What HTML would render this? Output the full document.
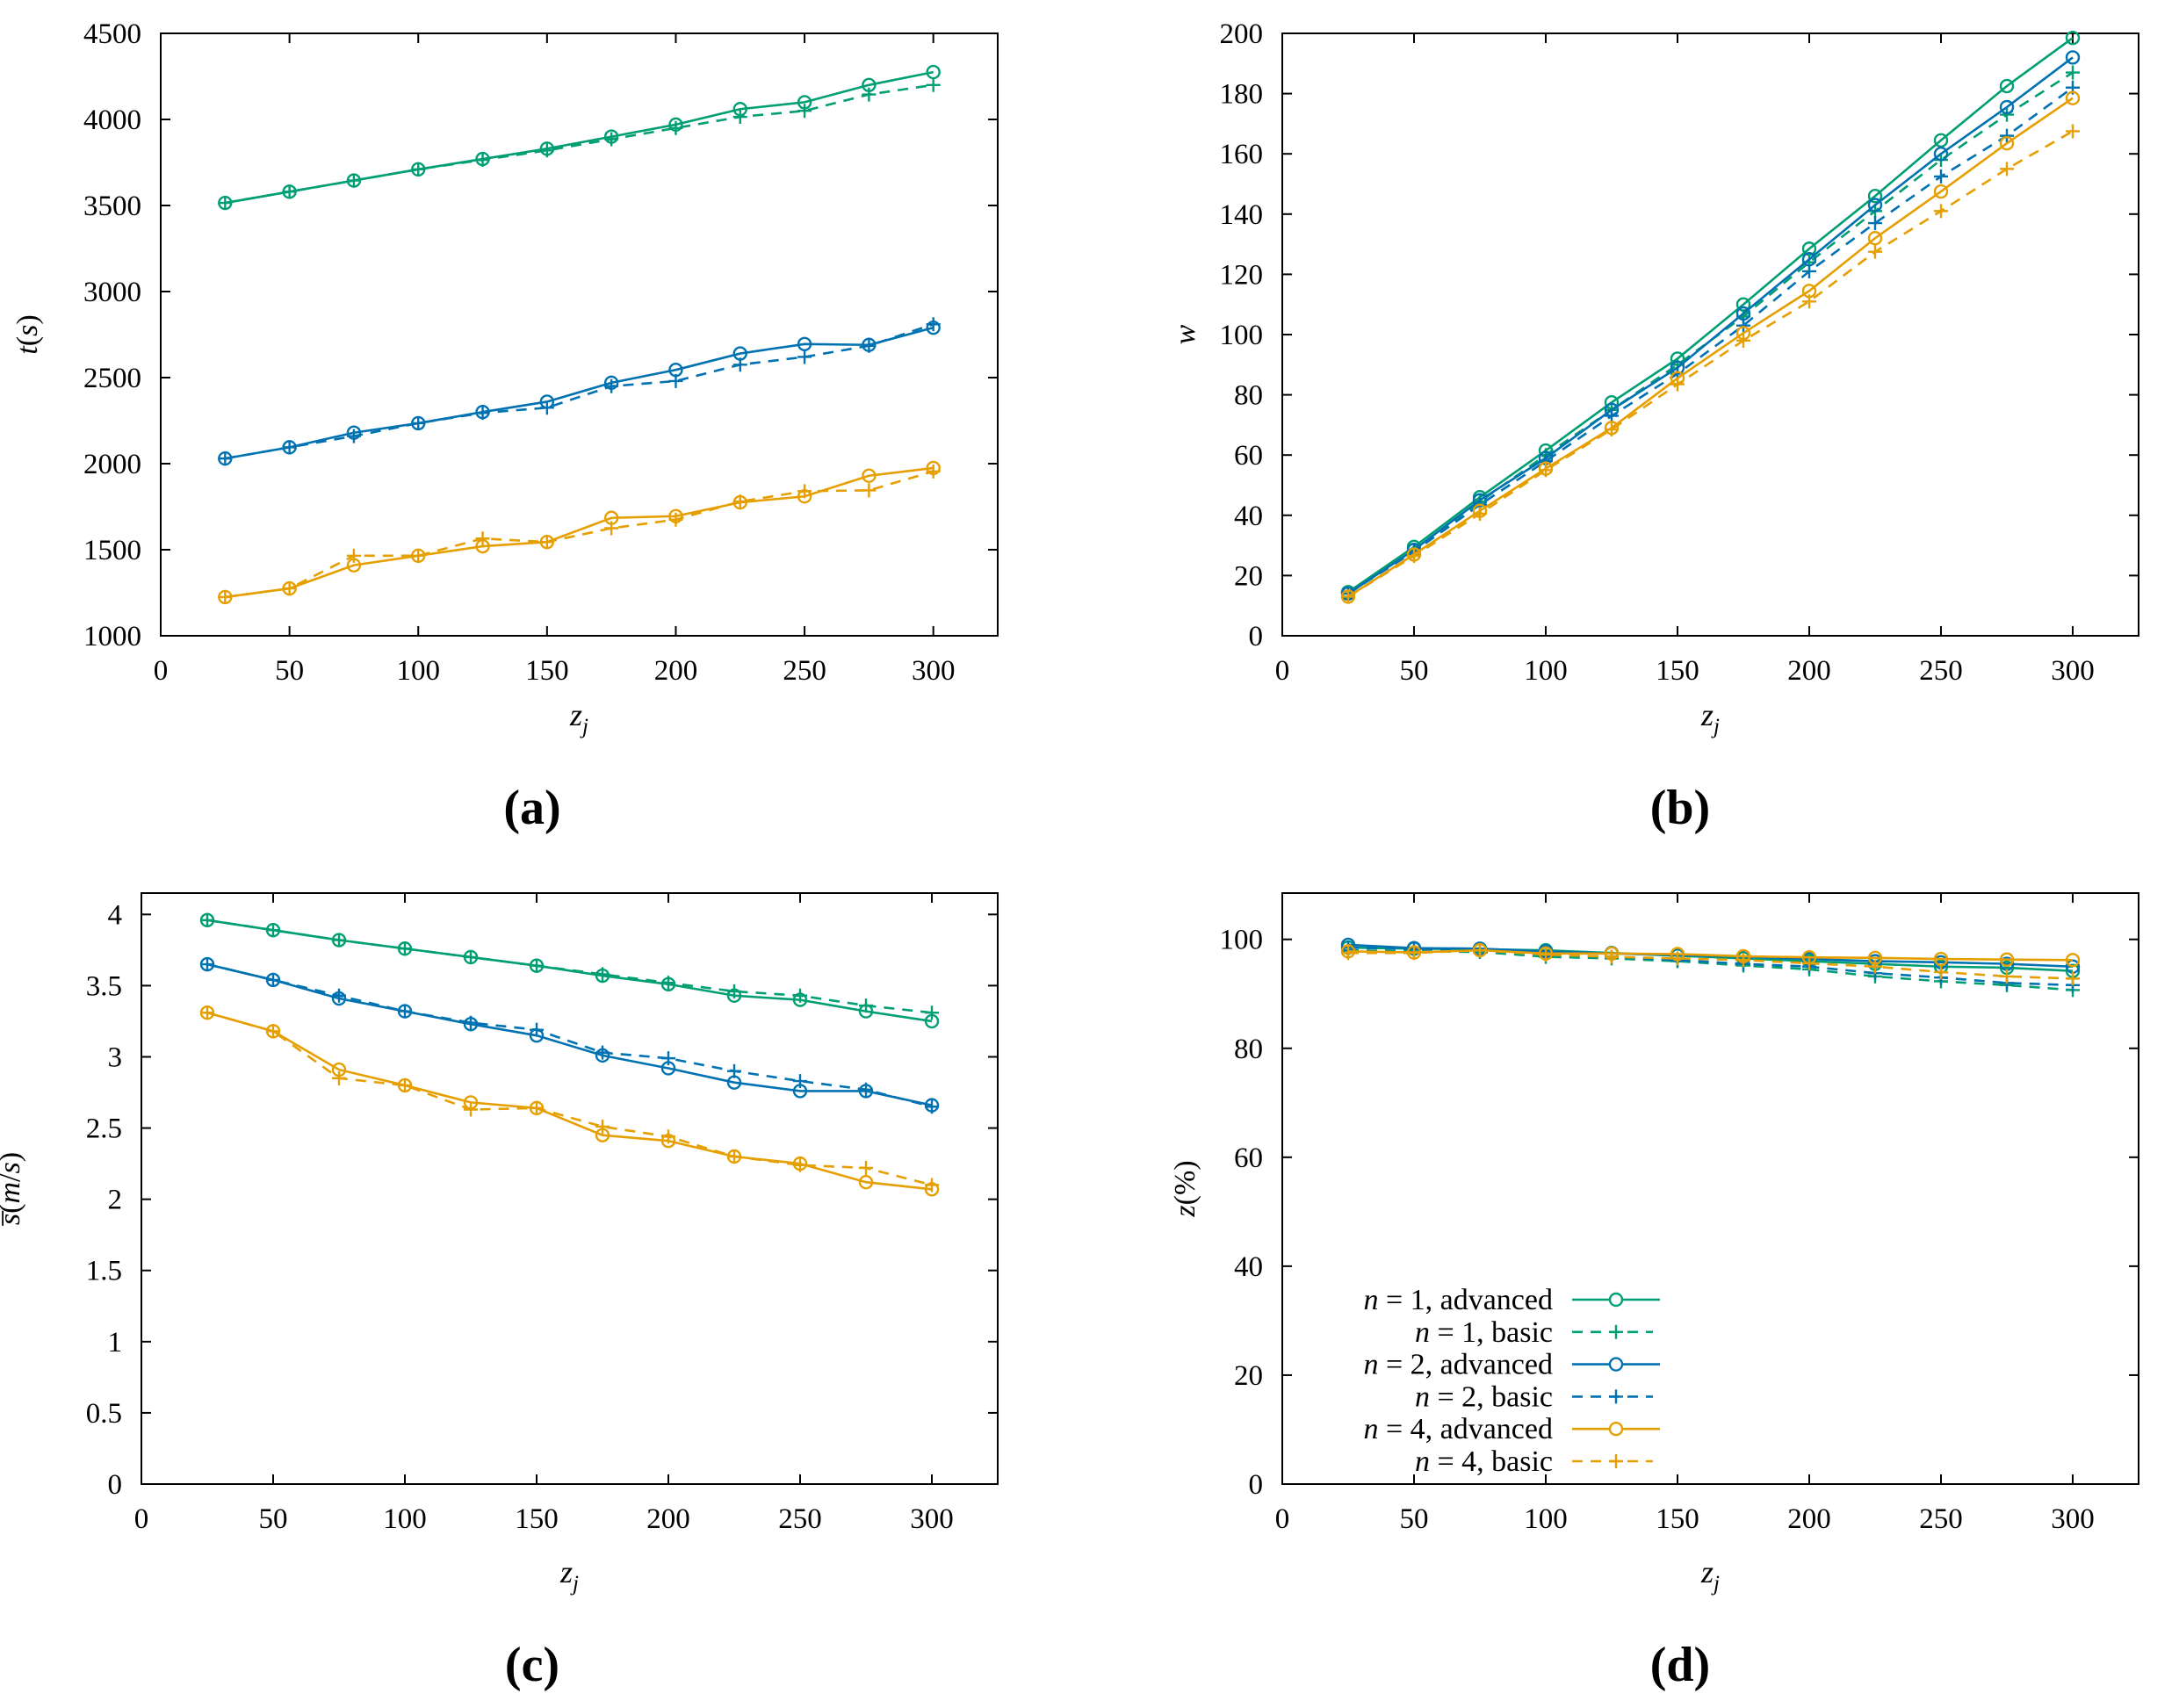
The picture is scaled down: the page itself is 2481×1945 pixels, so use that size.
<!DOCTYPE html>
<html><head><meta charset="utf-8"><style>
html,body{margin:0;padding:0;background:#fff}
svg{display:block}
text{font-family:"Liberation Serif","DejaVu Serif",serif;fill:#000}
</style></head><body>
<svg id="fig" xmlns="http://www.w3.org/2000/svg" width="2481" height="1945" viewBox="0 0 2481 1945"></svg>
<script>
const xValues=[25,50,75,100,125,150,175,200,225,250,275,300];
const xTicks=[0,50,100,150,200,250,300];
const seriesNames=["n1-advanced","n1-basic","n2-advanced","n2-basic","n4-advanced","n4-basic"];
const legendLabels=["1, advanced","1, basic","2, advanced","2, basic","4, advanced","4, basic"];
const aTicks=[1000,1500,2000,2500,3000,3500,4000,4500];
const bTicks=[0,20,40,60,80,100,120,140,160,180,200];
const cTicks=[0,0.5,1,1.5,2,2.5,3,3.5,4];
const cTickLabels=["0","0.5","1","1.5","2","2.5","3","3.5","4"];
const dTicks=[0,20,40,60,80,100];
const a_n1adv=[3515,3580,3645,3710,3770,3830,3900,3970,4060,4100,4200,4275];
const a_n1bas=[3515,3580,3645,3710,3765,3820,3885,3950,4015,4050,4145,4200];
const a_n2adv=[2030,2095,2180,2235,2300,2360,2470,2545,2640,2695,2690,2790];
const a_n2bas=[2030,2095,2160,2235,2295,2325,2450,2480,2575,2620,2685,2810];
const a_n4adv=[1225,1275,1410,1465,1520,1545,1685,1695,1775,1810,1930,1975];
const a_n4bas=[1225,1275,1465,1465,1565,1545,1625,1675,1780,1840,1845,1955];
const b_n1adv=[14.5,29.5,46,61.5,77.5,92,110,128.5,146,164.5,182.5,198.5];
const b_n1bas=[14,28.5,44.5,60,75,90,106,124,141,158,173,187];
const b_n2adv=[14,28.5,45,59,75,89,107,125,143,160,175.5,192];
const b_n2bas=[14,28,43.5,58,73,87,103,121,137,152.5,166,182];
const b_n4adv=[13,27,41.5,55.5,69,85.5,100.5,114.5,132,147.5,163.5,178.5];
const b_n4bas=[13,26.5,40.5,55,68.5,83.5,98,111,127.5,141,155,167.5];
const c_n1adv=[3.96,3.89,3.82,3.76,3.70,3.64,3.57,3.51,3.43,3.40,3.32,3.25];
const c_n1bas=[3.96,3.89,3.82,3.76,3.70,3.64,3.58,3.52,3.46,3.43,3.36,3.31];
const c_n2adv=[3.65,3.54,3.41,3.32,3.23,3.15,3.01,2.92,2.82,2.76,2.76,2.66];
const c_n2bas=[3.65,3.54,3.43,3.32,3.24,3.19,3.03,2.99,2.90,2.83,2.77,2.65];
const c_n4adv=[3.31,3.18,2.91,2.80,2.68,2.64,2.45,2.41,2.30,2.25,2.12,2.07];
const c_n4bas=[3.31,3.18,2.85,2.80,2.63,2.64,2.51,2.44,2.30,2.24,2.22,2.10];
const d_n1adv=[98.5,98.3,98.2,98,97.5,97,96.5,96,95.5,95,94.8,94.2];
const d_n1bas=[98,97.8,97.7,96.8,96.5,96,95.2,94.5,93.2,92.3,91.6,90.7];
const d_n2adv=[99,98.4,98.3,97.8,97.4,97.1,96.8,96.4,96,95.8,95.5,95];
const d_n2bas=[98.5,98.2,98.1,97.2,96.8,96.2,95.5,95,93.8,93,92,91.6];
const d_n4adv=[97.8,97.6,98,97.4,97.4,97.3,96.9,96.7,96.6,96.4,96.3,96.2];
const d_n4bas=[97.5,97.5,98,97.2,96.8,96.5,96.2,95.6,95,94,93.2,92.8];

const colors=["#009e73","#009e73","#0072b2","#0072b2","#e69f00","#e69f00"];
const NS="http://www.w3.org/2000/svg";
const svg=document.getElementById('fig');
function el(tag,attrs,parent){const e=document.createElementNS(NS,tag);for(const k in attrs)e.setAttribute(k,attrs[k]);(parent||svg).appendChild(e);return e;}

function panel(cfg){
  const g=el('g',{});
  
  
  const L=cfg.left,R=cfg.right,T=cfg.top,B=cfg.bottom;
  const xs=v=>L+(v-0)/(325-0)*(R-L);
  const ys=v=>B-(v-cfg.ymin)/(cfg.ymax-cfg.ymin)*(B-T);
  xTicks.forEach(t=>{
    const x=xs(t);
    if(t>0){el('line',{x1:x,y1:B,x2:x,y2:B-11,stroke:'#000','stroke-width':2},g);
    el('line',{x1:x,y1:T,x2:x,y2:T+11,stroke:'#000','stroke-width':2},g);}
    const tx=el('text',{x:x,y:B+50,'text-anchor':'middle','font-size':33},g);
    tx.textContent=t;
    
    
  });
  cfg.yticks.forEach((t,i)=>{
    const y=ys(t);
    el('line',{x1:L,y1:y,x2:L+11,y2:y,stroke:'#000','stroke-width':2},g);
    el('line',{x1:R,y1:y,x2:R-11,y2:y,stroke:'#000','stroke-width':2},g);
    const tx=el('text',{x:L-22,y:y+11,'text-anchor':'end','font-size':33},g);
    tx.textContent=cfg.ylabels?cfg.ylabels[i]:t;
    
    
  });
  const fr=el('rect',{x:L,y:T,width:R-L,height:B-T,fill:'none',stroke:'#000','stroke-width':2},g);
  
  
  cfg.series.forEach((vals,si)=>{
    const sg=el('g',{},g);
    
    
    const pts=xValues.map((x,i)=>xs(x)+','+ys(vals[i])).join(' ');
    const basic=si%2===1;
    el('polyline',{points:pts,fill:'none',stroke:colors[si],'stroke-width':2.6,'stroke-dasharray':basic?'12,9':'none'},sg);
    xValues.forEach((x,i)=>{
      const px=xs(x),py=ys(vals[i]);
      if(basic){el('path',{d:`M${px-8},${py}H${px+8}M${px},${py-8}V${py+8}`,stroke:colors[si],'stroke-width':2.4,fill:'none'},sg);}
      else{el('circle',{cx:px,cy:py,r:7,fill:'none',stroke:colors[si],'stroke-width':2.4},sg);}
    });
  });
  const xt=el('text',{x:(L+R)/2,y:cfg.xtitleY,'text-anchor':'middle','font-size':36,'font-style':'italic'},g);
  xt.innerHTML='z<tspan font-size="25" dy="9">j</tspan>';
  
  
  const yt=el('text',{x:0,y:0,'text-anchor':'middle','font-size':34,transform:`translate(${cfg.ytitleX},${(T+B)/2}) rotate(-90)`},g);
  yt.innerHTML=cfg.ytitle;
  
  
  const pl=el('text',{x:cfg.labelX,y:cfg.labelY,'text-anchor':'middle','font-size':56,'font-weight':'bold'},g);
  pl.textContent=cfg.label;
  
  
  return {g,xs,ys};
}

panel({name:'panel-a',left:183,right:1136,top:38,bottom:724,ymin:1000,ymax:4500,yticks:aTicks,
  series:[a_n1adv,a_n1bas,a_n2adv,a_n2bas,a_n4adv,a_n4bas],xtitleY:826,ytitleX:42,
  ytitle:'<tspan font-style="italic">t</tspan>(<tspan font-style="italic">s</tspan>)',label:'(a)',labelX:606,labelY:938});
panel({name:'panel-b',left:1460,right:2435,top:38,bottom:724,ymin:0,ymax:200,yticks:bTicks,
  series:[b_n1adv,b_n1bas,b_n2adv,b_n2bas,b_n4adv,b_n4bas],xtitleY:826,ytitleX:1360,
  ytitle:'<tspan font-style="italic">w</tspan>',label:'(b)',labelX:1913,labelY:938});
panel({name:'panel-c',left:161,right:1136,top:1017,bottom:1690,ymin:0,ymax:4.15,yticks:cTicks,ylabels:cTickLabels,
  series:[c_n1adv,c_n1bas,c_n2adv,c_n2bas,c_n4adv,c_n4bas],xtitleY:1802,ytitleX:22,
  ytitle:'<tspan font-style="italic">s̅</tspan>(<tspan font-style="italic">m</tspan>/<tspan font-style="italic">s</tspan>)',label:'(c)',labelX:606,labelY:1914});
panel({name:'panel-d',left:1460,right:2435,top:1017,bottom:1690,ymin:0,ymax:108.5,yticks:dTicks,
  series:[d_n1adv,d_n1bas,d_n2adv,d_n2bas,d_n4adv,d_n4bas],xtitleY:1802,ytitleX:1360,
  ytitle:'<tspan font-style="italic">z</tspan>(%)',label:'(d)',labelX:1913,labelY:1914});

const lg=el('g',{});


legendLabels.forEach((lab,i)=>{
  const y=1480+i*36.8;
  const eg=el('g',{},lg);
  
  
  const t=el('text',{x:1768,y:y+11,'text-anchor':'end','font-size':34},eg);
  t.innerHTML='<tspan font-style="italic">n</tspan> = '+lab;
  const basic=i%2===1;
  el('line',{x1:1790,y1:y,x2:basic?1882:1890,y2:y,stroke:colors[i],'stroke-width':2.6,'stroke-dasharray':basic?'12,9':'none'},eg);
  if(basic){el('path',{d:`M1832,${y}H1848M1840,${y-8}V${y+8}`,stroke:colors[i],'stroke-width':2.4},eg);}
  else{el('circle',{cx:1840,cy:y,r:7,fill:'#fff',stroke:colors[i],'stroke-width':2.4},eg);}
});
</script>
</body></html>
